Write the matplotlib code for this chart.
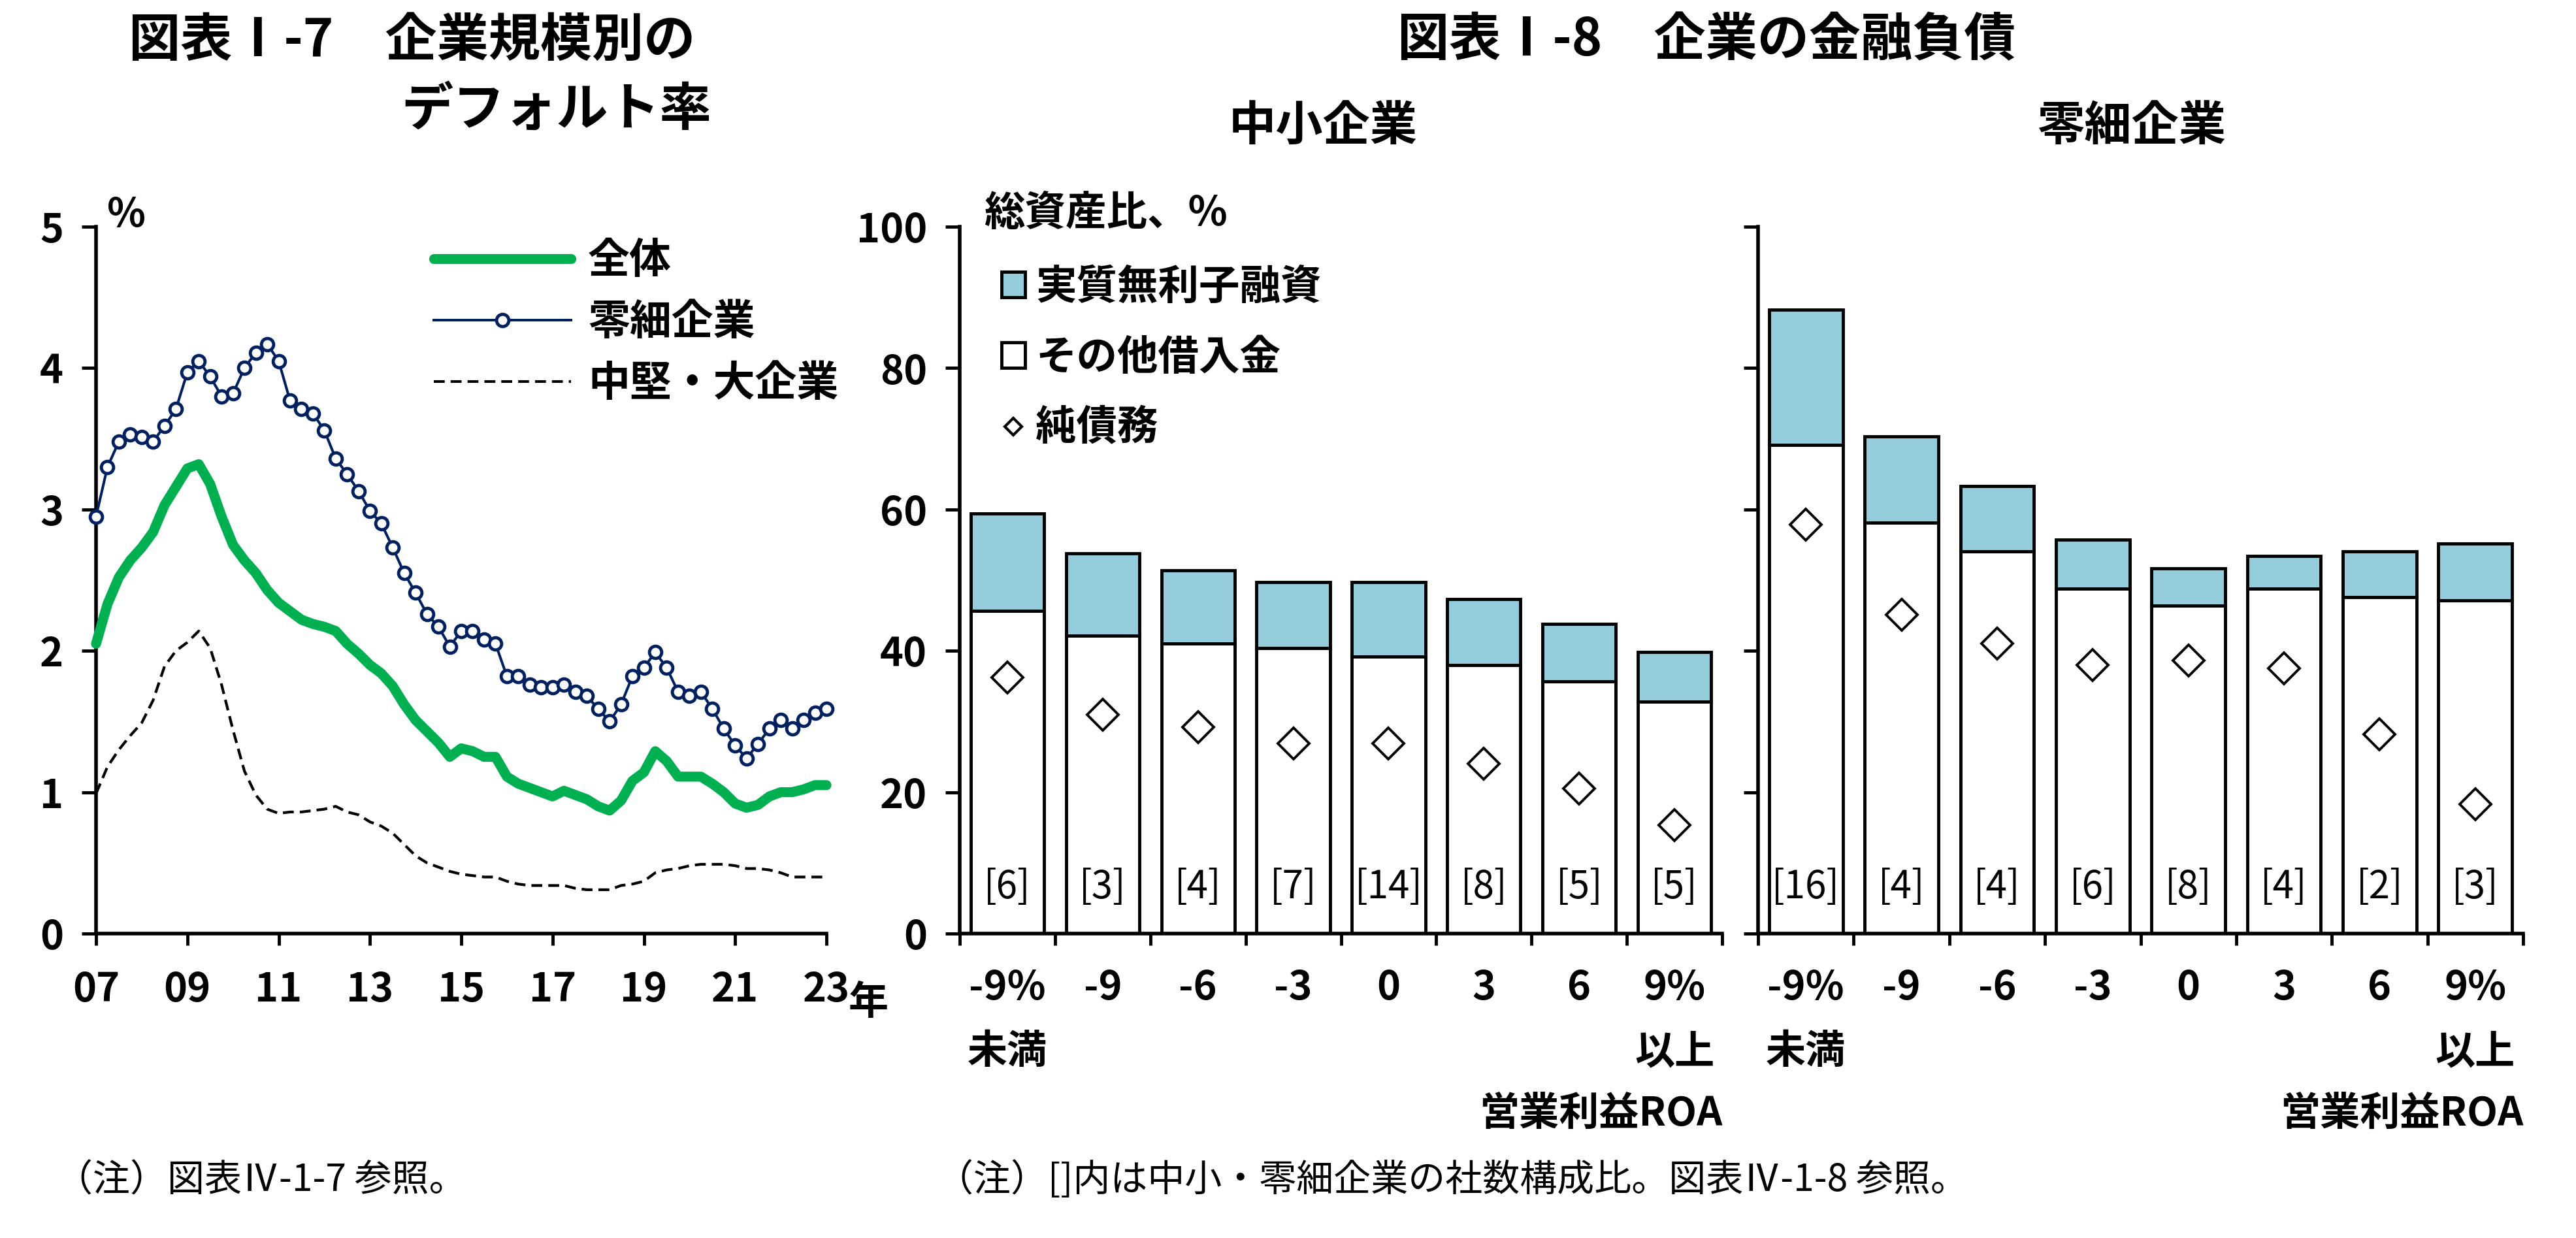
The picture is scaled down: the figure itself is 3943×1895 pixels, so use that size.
import numpy as np
import pandas as pd
import matplotlib
matplotlib.use("Agg")
import matplotlib.pyplot as plt
from matplotlib.patches import Patch
from matplotlib.lines import Line2D

plt.rcParams['font.family'] = ['Noto Sans CJK JP', 'DejaVu Sans']
plt.rcParams['font.weight'] = 'bold'

# ---------------- data ----------------
quarters = pd.period_range('2007Q1', '2023Q1', freq='Q')

default_all = [2.05, 2.33, 2.52, 2.64, 2.73, 2.84, 3.03, 3.16, 3.29, 3.32, 3.18, 2.95,
               2.75, 2.64, 2.55, 2.43, 2.34, 2.28, 2.22, 2.19, 2.17, 2.14, 2.05, 1.98,
               1.90, 1.84, 1.75, 1.62, 1.51, 1.43, 1.35, 1.25,
               1.31, 1.29, 1.25, 1.25, 1.11, 1.06, 1.03, 1.00, 0.97, 1.01, 0.98, 0.95,
               0.90, 0.87, 0.94, 1.08, 1.14, 1.29, 1.22, 1.11, 1.11, 1.11, 1.06, 1.00,
               0.92, 0.89, 0.91, 0.97, 1.00, 1.00, 1.02, 1.05, 1.05]

default_micro = [2.95, 3.30, 3.48, 3.53, 3.51, 3.48, 3.59, 3.71, 3.97, 4.05, 3.94, 3.80,
                 3.82, 4.00, 4.11, 4.17, 4.05, 3.77, 3.71, 3.68, 3.56, 3.36, 3.25, 3.13,
                 2.99, 2.90, 2.73, 2.55, 2.41, 2.26, 2.17, 2.03,
                 2.14, 2.14, 2.08, 2.05, 1.82, 1.82, 1.76, 1.74, 1.74, 1.76, 1.71, 1.68,
                 1.59, 1.50, 1.62, 1.82, 1.88, 1.99, 1.88, 1.71, 1.68, 1.71, 1.59, 1.45,
                 1.33, 1.24, 1.34, 1.45, 1.51, 1.45, 1.51, 1.56, 1.59]

default_large = [0.99, 1.18, 1.30, 1.40, 1.49, 1.65, 1.89, 2.00, 2.06, 2.14, 2.02, 1.76,
                 1.44, 1.15, 0.98, 0.88, 0.85, 0.86, 0.86, 0.87, 0.88, 0.90, 0.86, 0.84,
                 0.79, 0.76, 0.71, 0.63, 0.55, 0.50, 0.47, 0.44,
                 0.42, 0.41, 0.40, 0.40, 0.37, 0.35, 0.34, 0.34, 0.34, 0.34, 0.32, 0.31,
                 0.31, 0.31, 0.34, 0.35, 0.37, 0.43, 0.45, 0.46, 0.48, 0.49, 0.49, 0.49,
                 0.48, 0.46, 0.46, 0.45, 0.43, 0.40, 0.40, 0.40, 0.40]

year_ticks = [2007, 2009, 2011, 2013, 2015, 2017, 2019, 2021, 2023]
year_labels = ['07', '09', '11', '13', '15', '17', '19', '21', '23']

roa_labels = ['-9%\n未満', '-9', '-6', '-3', '0', '3', '6', '9%\n以上']

sme_other = [45.7, 42.1, 41.0, 40.4, 39.2, 38.0, 35.7, 32.8]
sme_interest_free = [13.7, 11.7, 10.4, 9.3, 10.5, 9.3, 8.1, 7.0]
sme_net_debt = [36.2, 31.0, 29.2, 26.9, 26.9, 24.0, 20.5, 15.3]
sme_share = ['[6]', '[3]', '[4]', '[7]', '[14]', '[8]', '[5]', '[5]']

micro_other = [69.1, 58.1, 54.1, 48.8, 46.4, 48.8, 47.6, 47.1]
micro_interest_free = [19.2, 12.2, 9.2, 6.9, 5.3, 4.6, 6.5, 8.1]
micro_net_debt = [57.9, 45.1, 41.0, 38.0, 38.6, 37.5, 28.2, 18.3]
micro_share = ['[16]', '[4]', '[4]', '[6]', '[8]', '[4]', '[2]', '[3]']

# ---------------- styles ----------------
GREEN = '#00B050'
NAVY = '#002060'
LBLUE = '#96CDDD'
TICK_FS = 44
W, H = 3943, 1895

fig = plt.figure(figsize=(W / 100, H / 100), dpi=100)


def rect(x0, x1, ytop, ybot):
    return [x0 / W, 1 - ybot / H, (x1 - x0) / W, (ybot - ytop) / H]


def style_axes(ax):
    for s in ['top', 'right']:
        ax.spines[s].set_visible(False)
    for s in ['left', 'bottom']:
        ax.spines[s].set_linewidth(4)
    ax.tick_params(axis='y', direction='out', length=16, width=3.5,
                   labelsize=TICK_FS, pad=20)
    ax.tick_params(axis='x', which='major', direction='out', length=13, width=3.5,
                   labelsize=TICK_FS, pad=27)


# ---------------- left: default rates ----------------
ax1 = fig.add_axes(rect(147, 1265, 347, 1429))
t = quarters.year + (quarters.quarter - 1) / 4.0
ax1.plot(t, default_all, color=GREEN, lw=11, solid_joinstyle='round',
         solid_capstyle='round', label='全体', zorder=3, clip_on=False)
ax1.plot(t, default_micro, color=NAVY, lw=2.9, marker='o', ms=13.5, mfc='white',
         mec=NAVY, mew=3.5, label='零細企業', zorder=4, clip_on=False)
ax1.plot(t, default_large, color='black', lw=3, ls=(0, (4, 2.2)),
         label='中堅・大企業', zorder=2, clip_on=False)
ax1.set_xlim(2007, 2023)
ax1.set_ylim(0, 5)
ax1.set_xticks(year_ticks, year_labels)
ax1.set_yticks(range(6))
style_axes(ax1)
ax1.legend(loc='upper left', bbox_to_anchor=(0.462, 0.982), frameon=False,
           fontsize=46, handlelength=3.3, handletextpad=0.4, labelspacing=0.45,
           numpoints=1, borderpad=0, borderaxespad=0)
ax1.text(0.015, 1.016, '%', transform=ax1.transAxes, fontsize=TICK_FS,
         ha='left', va='center')
ax1.text(1.03, -0.098, '年', transform=ax1.transAxes, fontsize=TICK_FS,
         ha='left', va='center')


# ---------------- bar charts ----------------
def bar_panel(ax, other, free, net, share, show_ylabels):
    x = np.arange(len(roa_labels))
    ax.bar(x, other, width=0.77, color='white', edgecolor='black', lw=3.5, zorder=2)
    ax.bar(x, free, bottom=other, width=0.77, color=LBLUE, edgecolor='black',
           lw=3.5, zorder=2)
    ax.plot(x, net, ls='none', marker='D', ms=24, mfc='white', mec='black',
            mew=2.8, zorder=3)
    for xi, s in zip(x, share):
        ax.text(xi, 6.5, s, ha='center', va='center', fontsize=42,
                fontweight='normal', zorder=4)
    ax.set_xlim(-0.5, len(roa_labels) - 0.5)
    ax.set_ylim(0, 100)
    ax.set_yticks(range(0, 101, 20))
    ax.set_xticks(np.arange(-0.5, len(roa_labels), 1.0))
    ax.set_xticks(x, minor=True)
    ax.set_xticklabels(roa_labels, minor=True, linespacing=1.75)
    style_axes(ax)
    ax.tick_params(axis='x', which='major', labelbottom=False)
    ax.tick_params(axis='x', which='minor', length=0, labelsize=TICK_FS, pad=38)
    if not show_ylabels:
        ax.tick_params(axis='y', labelleft=False)
    ax.text(1.0, -0.255, '営業利益ROA', transform=ax.transAxes, ha='right',
            va='center', fontsize=TICK_FS)


ax2 = fig.add_axes(rect(1469, 2636, 347, 1429))
bar_panel(ax2, sme_other, sme_interest_free, sme_net_debt, sme_share, True)
ax3 = fig.add_axes(rect(2691, 3862, 347, 1429))
bar_panel(ax3, micro_other, micro_interest_free, micro_net_debt, micro_share, False)

ax2.text(0.032, 1.019, '総資産比、%', transform=ax2.transAxes, fontsize=45,
         ha='left', va='center')
handles = [Patch(facecolor=LBLUE, edgecolor='black', lw=3.5),
           Patch(facecolor='white', edgecolor='black', lw=3.5),
           Line2D([], [], ls='none', marker='D', ms=13, mfc='white', mec='black', mew=3)]
ax2.legend(handles, ['実質無利子融資', 'その他借入金', '純債務'], loc='upper left',
           bbox_to_anchor=(0.055, 0.944), frameon=False, fontsize=45,
           handlelength=0.58, handleheight=0.58, handletextpad=0.25,
           labelspacing=0.72, borderpad=0, borderaxespad=0)

# ---------------- titles & notes ----------------
fig.text(197 / W, 1 - 62 / H, '図表Ⅰ-7　企業規模別の', fontsize=57, va='center')
fig.text(614 / W, 1 - 168 / H, 'デフォルト率', fontsize=57, va='center')
fig.text(2139 / W, 1 - 62 / H, '図表Ⅰ-8　企業の金融負債', fontsize=57, va='center')
fig.text(2025 / W, 1 - 194 / H, '中小企業', fontsize=52, va='center', ha='center')
fig.text(3263 / W, 1 - 194 / H, '零細企業', fontsize=52, va='center', ha='center')
fig.text(85 / W, 1 - 1807 / H, '（注）図表Ⅳ-1-7 参照。', fontsize=41, va='center',
         fontweight='normal')
fig.text(1433 / W, 1 - 1807 / H, '（注）[]内は中小・零細企業の社数構成比。図表Ⅳ-1-8 参照。',
         fontsize=41, va='center', fontweight='normal')

fig.savefig('out.png', dpi=100)
